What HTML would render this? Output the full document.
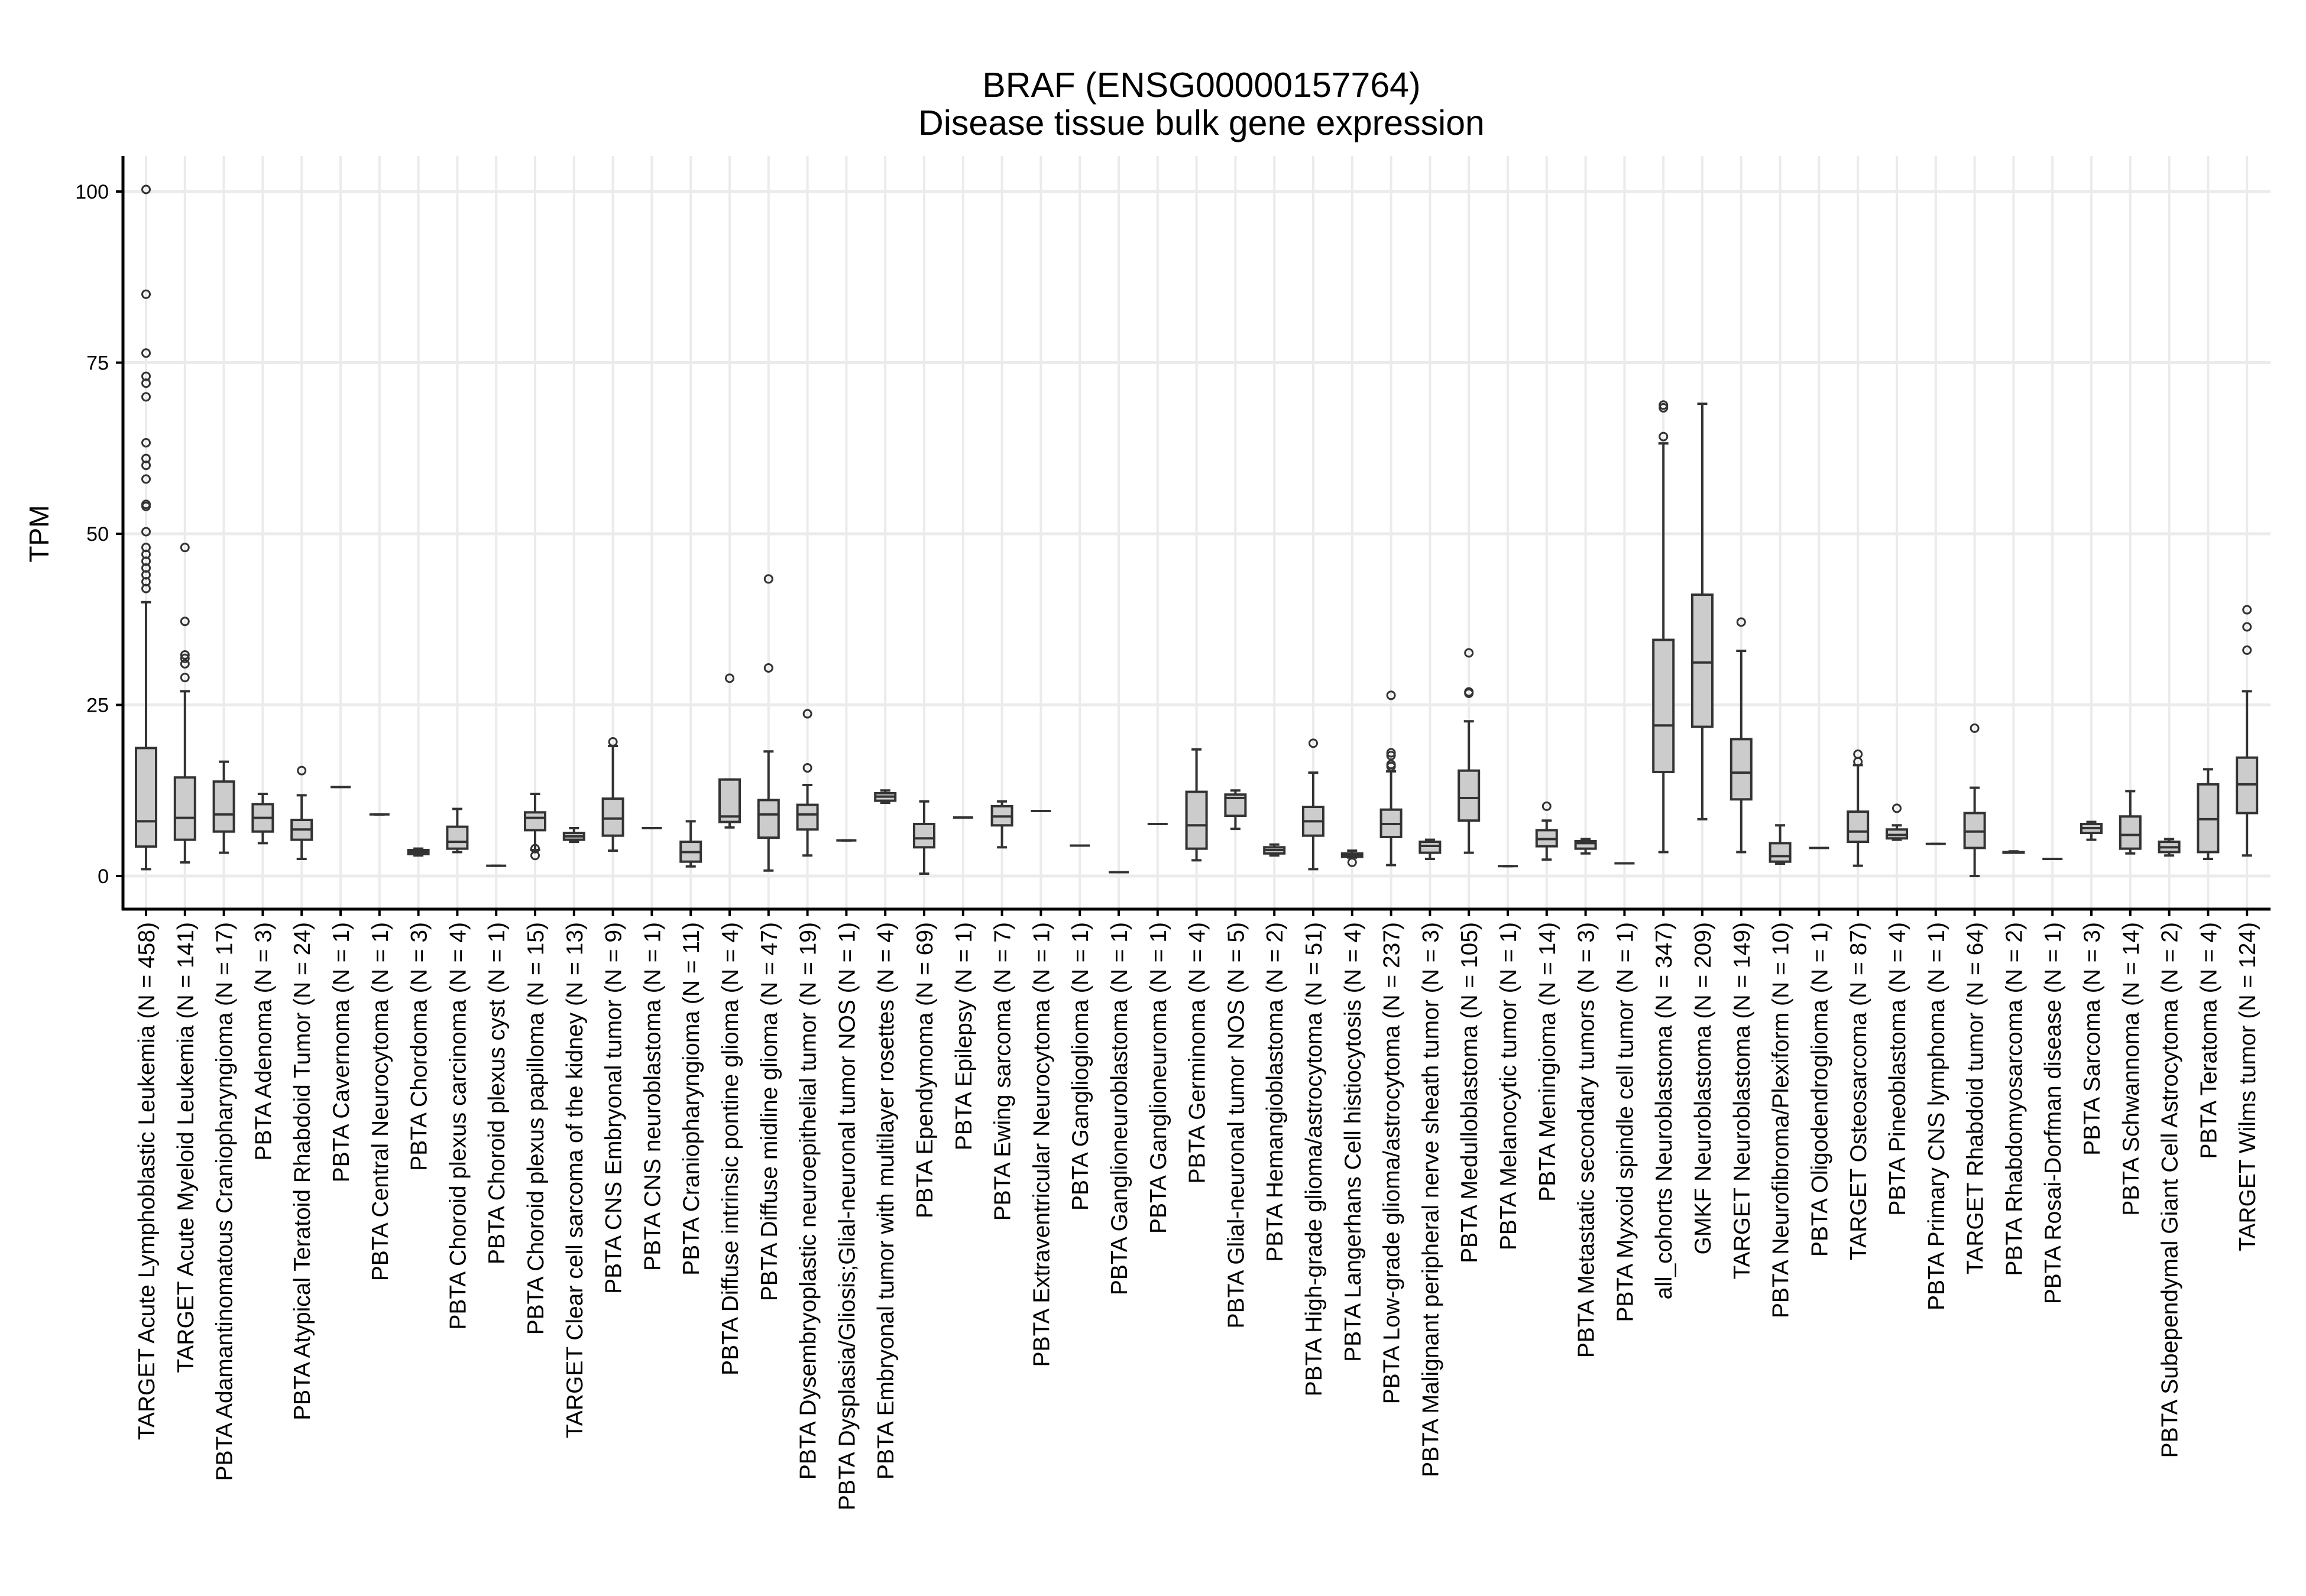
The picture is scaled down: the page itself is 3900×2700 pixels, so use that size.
<!DOCTYPE html>
<html><head><meta charset="utf-8"><style>
html,body{margin:0;padding:0;background:#fff;}
svg{display:block;font-family:"Liberation Sans",Arial,sans-serif;}
</style></head><body>
<svg id="chart" width="3900" height="2700" viewBox="0 0 3900 2700" xmlns="http://www.w3.org/2000/svg">
<rect x="0" y="0" width="3900" height="2700" fill="#fff"/>
<text x="2032" y="164" text-anchor="middle" font-size="59" fill="#000">BRAF (ENSG00000157764)</text>
<text x="2032" y="228" text-anchor="middle" font-size="59" fill="#000">Disease tissue bulk gene expression</text>
<text transform="translate(82,903) rotate(-90)" text-anchor="middle" font-size="46" fill="#000">TPM</text>
<g id="grid"></g>
<g id="marks"></g>
<g id="axes"></g>
</svg>
<script>
const categories = ["TARGET Acute Lymphoblastic Leukemia (N = 458)","TARGET Acute Myeloid Leukemia (N = 141)","PBTA Adamantinomatous Craniopharyngioma (N = 17)","PBTA Adenoma (N = 3)","PBTA Atypical Teratoid Rhabdoid Tumor (N = 24)","PBTA Cavernoma (N = 1)","PBTA Central Neurocytoma (N = 1)","PBTA Chordoma (N = 3)","PBTA Choroid plexus carcinoma (N = 4)","PBTA Choroid plexus cyst (N = 1)","PBTA Choroid plexus papilloma (N = 15)","TARGET Clear cell sarcoma of the kidney (N = 13)","PBTA CNS Embryonal tumor (N = 9)","PBTA CNS neuroblastoma (N = 1)","PBTA Craniopharyngioma (N = 11)","PBTA Diffuse intrinsic pontine glioma (N = 4)","PBTA Diffuse midline glioma (N = 47)","PBTA Dysembryoplastic neuroepithelial tumor (N = 19)","PBTA Dysplasia/Gliosis;Glial-neuronal tumor NOS (N = 1)","PBTA Embryonal tumor with multilayer rosettes (N = 4)","PBTA Ependymoma (N = 69)","PBTA Epilepsy (N = 1)","PBTA Ewing sarcoma (N = 7)","PBTA Extraventricular Neurocytoma (N = 1)","PBTA Ganglioglioma (N = 1)","PBTA Ganglioneuroblastoma (N = 1)","PBTA Ganglioneuroma (N = 1)","PBTA Germinoma (N = 4)","PBTA Glial-neuronal tumor NOS (N = 5)","PBTA Hemangioblastoma (N = 2)","PBTA High-grade glioma/astrocytoma (N = 51)","PBTA Langerhans Cell histiocytosis (N = 4)","PBTA Low-grade glioma/astrocytoma (N = 237)","PBTA Malignant peripheral nerve sheath tumor (N = 3)","PBTA Medulloblastoma (N = 105)","PBTA Melanocytic tumor (N = 1)","PBTA Meningioma (N = 14)","PBTA Metastatic secondary tumors (N = 3)","PBTA Myxoid spindle cell tumor (N = 1)","all_cohorts Neuroblastoma (N = 347)","GMKF Neuroblastoma (N = 209)","TARGET Neuroblastoma (N = 149)","PBTA Neurofibroma/Plexiform (N = 10)","PBTA Oligodendroglioma (N = 1)","TARGET Osteosarcoma (N = 87)","PBTA Pineoblastoma (N = 4)","PBTA Primary CNS lymphoma (N = 1)","TARGET Rhabdoid tumor (N = 64)","PBTA Rhabdomyosarcoma (N = 2)","PBTA Rosai-Dorfman disease (N = 1)","PBTA Sarcoma (N = 3)","PBTA Schwannoma (N = 14)","PBTA Subependymal Giant Cell Astrocytoma (N = 2)","PBTA Teratoma (N = 4)","TARGET Wilms tumor (N = 124)"];
const whiskerLow = [1,2,3.4,4.8,2.5,13,9,3,3.5,1.5,3.8,5,3.7,7,1.4,7.1,0.8,3,5.2,10.7,0.35,8.55,4.2,9.5,4.45,0.56,7.6,2.3,6.9,3,1,2.7,1.6,2.5,3.4,1.45,2.4,3.3,1.86,3.5,8.3,3.5,1.8,4.1,1.5,5.3,4.7,0,3.5,2.5,5.3,3.3,3,2.5,3];
const q1 = [4.3,5.3,6.5,6.5,5.3,13,9,3.2,4,1.5,6.7,5.3,5.9,7,2.1,7.9,5.6,6.8,5.2,11,4.2,8.55,7.4,9.5,4.45,0.56,7.6,4,8.8,3.3,5.9,2.8,5.7,3.4,8.1,1.45,4.35,4,1.86,15.2,21.8,11.2,2.1,4.1,5,5.5,4.7,4.1,3.4,2.5,6.3,4,3.5,3.5,9.2];
const medians = [8,8.5,9,8.5,6.8,13,9,3.5,5,1.5,8.5,5.8,8.4,7,3.5,8.7,9,9,5.2,11.6,5.5,8.55,8.7,9.5,4.45,0.56,7.6,7.4,11.4,3.8,8,3,7.6,4.4,11.4,1.45,5.4,4.8,1.86,22,31.2,15.1,2.9,4.1,6.5,6,4.7,6.5,3.5,2.5,7,6,4.2,8.3,13.4];
const q3 = [18.7,14.4,13.8,10.5,8.2,13,9,3.8,7.2,1.5,9.3,6.3,11.3,7,5,14.1,11.1,10.4,5.2,12.1,7.6,8.55,10.2,9.5,4.45,0.56,7.6,12.3,11.9,4.2,10.1,3.3,9.7,5,15.4,1.45,6.7,5.1,1.86,34.5,41.1,20,4.8,4.1,9.4,6.8,4.7,9.2,3.5,2.5,7.6,8.7,5,13.4,17.3];
const whiskerHigh = [40,27,16.7,12,11.8,13,9,4,9.8,1.5,12,7,19,7,8,14.1,18.2,13.3,5.2,12.5,10.9,8.55,10.9,9.5,4.45,0.56,7.6,18.5,12.5,4.6,15.1,3.7,15.3,5.3,22.6,1.45,8.1,5.4,1.86,63.2,69,32.9,7.4,4.1,16.2,7.4,4.7,12.9,3.6,2.5,7.9,12.4,5.4,15.6,27];
const outliers = [[42,43,44,45,46,47,48,50.3,54,54.3,58,60,61,63.3,70,72,73,76.4,85,100.3],[29,31,31.8,32.3,37.2,48],[],[],[15.4],[],[],[],[],[],[3,4],[],[19.6],[],[],[28.9],[30.4,43.4],[15.8,23.7],[],[],[],[],[],[],[],[],[],[],[],[],[19.4],[2],[16,16.3,17.6,18,26.4],[],[26.7,26.9,32.6],[],[10.2],[],[],[64.2,68.4,68.8],[],[37.1],[],[],[16.7,17.8],[9.9],[],[21.6],[],[],[],[],[],[],[33,36.4,38.9]];
const yTicks = [0,25,50,75,100];
const yTickLabels = ["0","25","50","75","100"];

const NS = "http://www.w3.org/2000/svg";
const PL = 208, PR = 3840, PT = 264, PB = 1538;
const X0 = 247, XSTEP = 65.8;
function xScale(i){ return X0 + i*XSTEP; }
function yScale(v){ return 1482 - v*11.58; }
function mk(tag, attrs, parent){ const e = document.createElementNS(NS, tag); for (const k in attrs) e.setAttribute(k, attrs[k]); parent.appendChild(e); return e; }
const grid = document.getElementById('grid'), marks = document.getElementById('marks'), axes = document.getElementById('axes');

yTicks.forEach((t, i) => {
  const l = mk('line', {x1:PL, x2:PR, y1:yScale(t), y2:yScale(t), stroke:'#ebebeb', 'stroke-width':5}, grid);
  
  
  const tk = mk('line', {x1:PL-12, x2:PL, y1:yScale(t), y2:yScale(t), stroke:'#000', 'stroke-width':4}, axes);
  
  
  const tx = mk('text', {x:184, y:yScale(t)+12, 'text-anchor':'end', 'font-size':34, fill:'#000'}, axes);
  tx.textContent = yTickLabels[i];
  
  
});

categories.forEach((c, i) => {
  const x = xScale(i);
  const g = mk('line', {x1:x, x2:x, y1:PT, y2:PB, stroke:'#ebebeb', 'stroke-width':4}, grid);
  
  
  const tk = mk('line', {x1:x, x2:x, y1:PB, y2:PB+12, stroke:'#000', 'stroke-width':4}, axes);
  
  
  const tx = mk('text', {transform:'translate('+(x+14)+',1560) rotate(-90)', 'text-anchor':'end', 'font-size':39, fill:'#000'}, axes);
  tx.textContent = c;
  
  

  const grp = mk('g', {}, marks);
  
  
  const st = {stroke:'#333', 'stroke-width':4};
  const hw = 17, cw = 8.5;
  const w1 = mk('line', Object.assign({x1:x, x2:x, y1:yScale(whiskerLow[i]), y2:yScale(q1[i])}, st), grp);
  
  
  const w2 = mk('line', Object.assign({x1:x, x2:x, y1:yScale(q3[i]), y2:yScale(whiskerHigh[i])}, st), grp);
  
  
  const c1 = mk('line', Object.assign({x1:x-cw, x2:x+cw, y1:yScale(whiskerLow[i]), y2:yScale(whiskerLow[i])}, st), grp);
  
  
  const c2 = mk('line', Object.assign({x1:x-cw, x2:x+cw, y1:yScale(whiskerHigh[i]), y2:yScale(whiskerHigh[i])}, st), grp);
  
  
  const bx = mk('rect', Object.assign({x:x-hw, y:yScale(q3[i]), width:2*hw, height:Math.max(0, yScale(q1[i])-yScale(q3[i])), fill:'#cccccc'}, st), grp);
  
  
  const md = mk('line', Object.assign({x1:x-hw, x2:x+hw, y1:yScale(medians[i]), y2:yScale(medians[i])}, st), grp);
  
  
  outliers[i].forEach(v => {
    const o = mk('circle', {cx:x, cy:yScale(v), r:6.5, fill:'none', stroke:'#333', 'stroke-width':3}, grp);
    
    
  });
});

const ya = mk('line', {x1:PL, x2:PL, y1:PT, y2:PB+2, stroke:'#000', 'stroke-width':5}, axes);


const xa = mk('line', {x1:PL-2, x2:PR, y1:PB, y2:PB, stroke:'#000', 'stroke-width':5}, axes);


</script>
</body></html>
